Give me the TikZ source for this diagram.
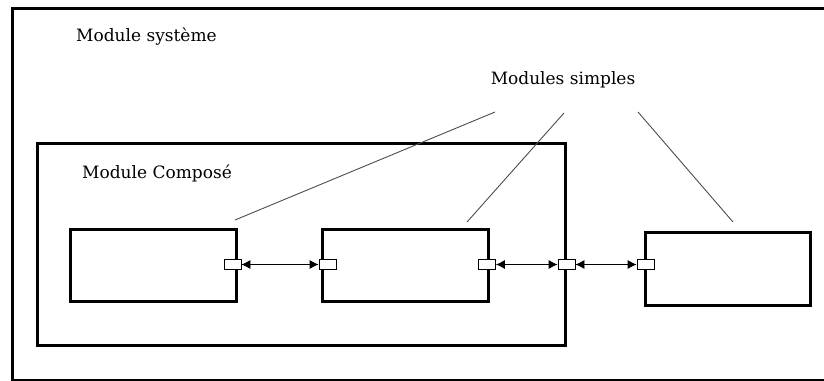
\documentclass[tikz,border=0pt]{standalone}
\usepackage{tikz}
\usepackage{fontspec}
\setmainfont{DejaVu Serif}
\usetikzlibrary{shapes,arrows,arrows.meta,positioning,fit}
\tikzstyle{frame} = [draw,line width=3pt,rectangle,inner sep=0]
\tikzstyle{module} = [draw,line width=3pt,rectangle,inner sep=0,minimum width=166pt,minimum height=72pt]
\tikzstyle{port} = [draw,line width=0.8pt,fill=white,rectangle,inner sep=0,minimum width=17pt,minimum height=10pt]
\tikzstyle{link} = [{Latex[length=9pt,width=9pt]}-{Latex[length=9pt,width=9pt]},line width=0.8pt]
\tikzstyle{leader} = [-,line width=0.9pt,black!70]
\tikzstyle{lbl} = [font=\fontsize{17}{20}\selectfont,inner sep=0]

\begin{document}
\begin{tikzpicture}[x=1pt,y=-1pt]
      \useasboundingbox (0,0) rectangle (824,380);
      % cadre du module systeme, ouvert a droite
      \coordinate (sysne) at (826,8);
      \coordinate (sysnw) at (12,8);
      \coordinate (syssw) at (12,380.5);
      \coordinate (sysse) at (826,380.5);
      \draw[line width=3pt] (sysne) -- (sysnw) -- (syssw) -- (sysse);
      % boites
      \node[frame,minimum width=528pt,minimum height=202pt] (comp) at (301,244) {};
      \node[module] (m1) at (153,265) {};
      \node[module] (m2) at (405,265) {};
      \node[module,minimum width=165pt,minimum height=73pt] (m3) at (727.5,268.5) {};
      % textes
      \node[lbl,anchor=west] (tsys) at (76,37) {Module système};
      \node[lbl,anchor=west] (tcomp) at (82,173) {Module Composé};
      \node[lbl] (tsimp) at (563,80) {Modules simples};
      % ports
      \node[port] (p1) at (232.5,264.5) {};
      \node[port] (p2) at (327.5,264.5) {};
      \node[port] (p3) at (487,264.5) {};
      \node[port] (p4) at (comp.east |- p3) {};
      \node[port] (p5) at (645.5,264.5) {};
      \draw[link] (p1) -- (p2);
      \draw[link] (p3) -- (p4);
      \draw[link] (p4) -- (p5);
      % renvois
      \coordinate (s1) at (495,112);
      \coordinate (s2) at (564,113);
      \coordinate (s3) at (638,112);
      \coordinate (e1) at (235,220);
      \coordinate (e2) at (467,222);
      \coordinate (e3) at (733,222);
      \draw[leader] (s1) -- (e1);
      \draw[leader] (s2) -- (e2);
      \draw[leader] (s3) -- (e3);
\end{tikzpicture}
\end{document}
